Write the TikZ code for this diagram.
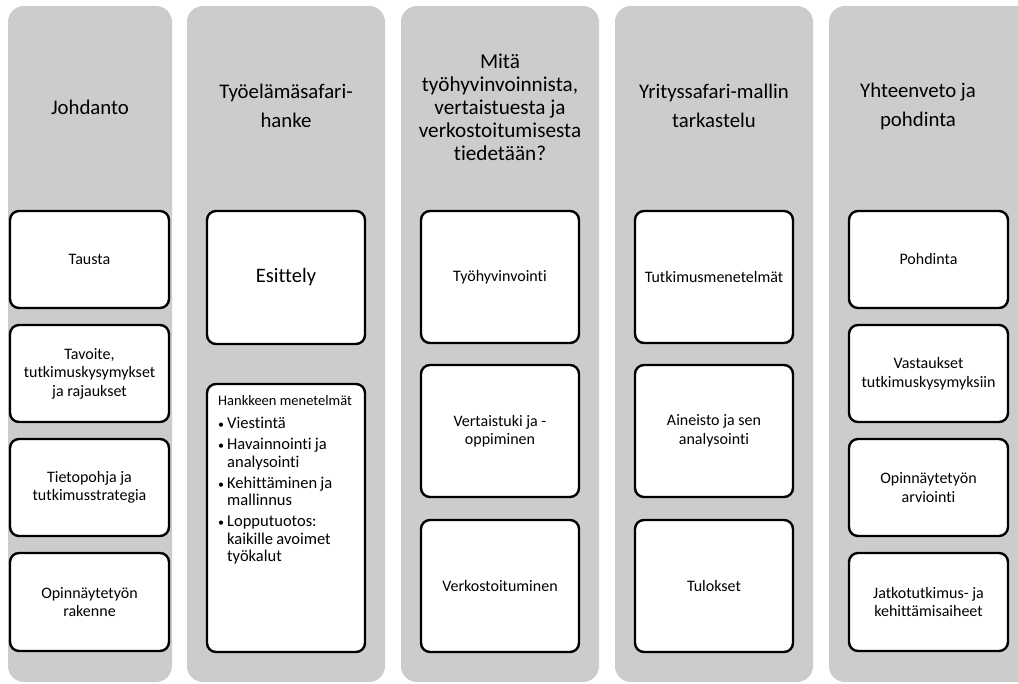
\documentclass[tikz,border=0pt]{standalone}
\usepackage{fontspec}
\setmainfont{Carlito}[Ligatures=NoCommon]
\definecolor{colgray}{RGB}{204,204,204}
\newcommand\bul{\makebox[9pt][l]{\fontsize{12}{12}\selectfont\textbullet}}
\newcommand\ind{\hspace*{9pt}}
\begin{document}
\begin{tikzpicture}[x=1pt,y=-1pt,
  col/.style={fill=colgray, draw=none, rounded corners=16pt},
  box/.style={draw=black, line width=2.4pt, fill=white, rounded corners=9pt, align=center,
    font=\fontsize{16}{18.5}\selectfont, inner sep=2pt},
  bigbox/.style={box, font=\fontsize{20.5}{24}\selectfont},
  coltitle/.style={align=center, font=\fontsize{20.8}{29}\selectfont, inner sep=0pt},
  coltitlex/.style={coltitle, font=\fontsize{21.2}{23}\selectfont}]
\useasboundingbox (0,0) rectangle (1018,684);
\begin{scope}
  \clip (0,0) rectangle (1018,684);
  \fill[col] (8,6) rectangle (172,682);
  \fill[col] (187,6) rectangle (385,682);
  \fill[col] (401,6) rectangle (599,682);
  \fill[col] (615,6) rectangle (813,682);
  \fill[col] (829,6) rectangle (1040,682);
\end{scope}
% titles
\node[coltitle] (t1) at (90,107) {Johdanto};
\node[coltitle] (t2) at (286,106) {Työelämäsafari-\\hanke};
\node[coltitlex] (t3) at (500,107) {Mitä\\työhyvinvoinnista,\\vertaistuesta ja\\verkostoitumisesta\\tiedetään?};
\node[coltitle] (t4) at (714,106) {Yrityssafari-mallin\\tarkastelu};
\node[coltitle] (t5) at (918,106) {Yhteenveto ja\\pohdinta};
% column 1
\node[box, minimum width=159pt, minimum height=97pt] (a1) at (89.5,259.5) {Tausta};
\node[box, minimum width=159pt, minimum height=97pt] (a2) at (89.5,373.5) {Tavoite,\\tutkimuskysymykset\\ja rajaukset};
\node[box, minimum width=159pt, minimum height=97pt] (a3) at (89.5,487.5) {Tietopohja ja\\tutkimusstrategia};
\node[box, minimum width=159pt, minimum height=98pt] (a4) at (89.5,602) {Opinnäytetyön\\rakenne};
% column 2
\node[bigbox, minimum width=158pt, minimum height=133pt] (b1) at (286,277.5) {Esittely};
\node[box, minimum width=158pt, minimum height=268pt] (b2) at (286,518) {};
\node[anchor=north west, inner sep=0pt, text width=145pt, align=left] (b2text) at (218,395) {%
  {\fontsize{14.5}{17}\selectfont Hankkeen menetelmät}\par\vspace{6pt}
  \fontsize{16.5}{17.5}\selectfont
  \bul Viestintä\par\vspace{3.5pt}
  \bul Havainnointi ja\\\ind analysointi\par\vspace{3.5pt}
  \bul Kehittäminen ja\\\ind mallinnus\par\vspace{3.5pt}
  \bul Lopputuotos:\\\ind kaikille avoimet\\\ind työkalut\par};
% column 3
\node[box, minimum width=158pt, minimum height=132pt] (c1) at (500,277) {Työhyvinvointi};
\node[box, minimum width=158pt, minimum height=132pt] (c2) at (500,431) {Vertaistuki ja -\\oppiminen};
\node[box, minimum width=158pt, minimum height=132pt] (c3) at (500,586) {Verkostoituminen};
% column 4
\node[box, minimum width=158pt, minimum height=132pt] (d1) at (714,277) {Tutkimusmenetelmät};
\node[box, minimum width=158pt, minimum height=132pt] (d2) at (714,431) {Aineisto ja sen\\analysointi};
\node[box, minimum width=158pt, minimum height=132pt] (d3) at (714,586) {Tulokset};
% column 5
\node[box, minimum width=159pt, minimum height=97pt] (e1) at (928.5,259.5) {Pohdinta};
\node[box, minimum width=159pt, minimum height=97pt] (e2) at (928.5,373.5) {Vastaukset\\tutkimuskysymyksiin};
\node[box, minimum width=159pt, minimum height=97pt] (e3) at (928.5,487.5) {Opinnäytetyön\\arviointi};
\node[box, minimum width=159pt, minimum height=98pt] (e4) at (928.5,602) {Jatkotutkimus- ja\\kehittämisaiheet};
\end{tikzpicture}
\end{document}
